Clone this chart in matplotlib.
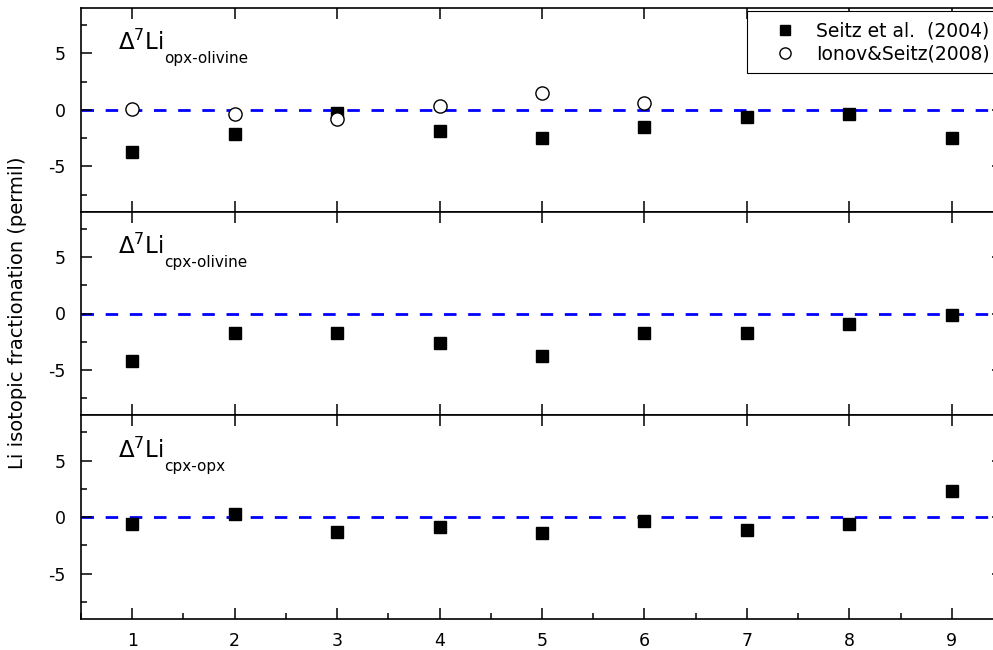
import matplotlib
matplotlib.use("Agg")
import matplotlib.pyplot as plt
from matplotlib.ticker import MultipleLocator

# ---- data ----
samples = [1, 2, 3, 4, 5, 6, 7, 8, 9]
opx_ol_seitz = [-3.7, -2.1, -0.3, -1.9, -2.5, -1.5, -0.65, -0.35, -2.5]
opx_ol_ionov_x = [1, 2, 3, 4, 5, 6]
opx_ol_ionov = [0.1, -0.35, -0.8, 0.3, 1.45, 0.6]
cpx_ol_seitz = [-4.2, -1.7, -1.7, -2.65, -3.8, -1.7, -1.7, -0.9, -0.1]
cpx_opx_seitz = [-0.6, 0.3, -1.35, -0.9, -1.4, -0.3, -1.1, -0.6, 2.3]
panel_labels = ["opx\u2010olivine", "cpx\u2010olivine", "cpx\u2010opx"]
legend_labels = ["Seitz et al.  (2004)", "Ionov&Seitz(2008)"]
ylabel = "Li isotopic fractionation (permil)"

plt.rcParams['font.family'] = ['DejaVu Sans']
plt.rcParams['mathtext.fontset'] = 'dejavusans'
plt.rcParams['axes.unicode_minus'] = False

fig = plt.figure(figsize=(9.93, 6.5), dpi=100)
W, H = 993.0, 650.0
left = 81 / W
right = 1003 / W
top_px, bot_px = 8, 619
ph = (bot_px - top_px) / 3.0

axes = []
for i in range(3):
    ytop = top_px + i * ph
    ax = fig.add_axes([left, 1 - (ytop + ph) / H, right - left, ph / H])
    axes.append(ax)

series = [opx_ol_seitz, cpx_ol_seitz, cpx_opx_seitz]
for i, ax in enumerate(axes):
    ax.set_xlim(0.5, 9.5)
    ax.set_ylim(-9, 9)
    ax.axhline(0, color='#0000ff', lw=2.0, ls=(0, (4.5, 4.2)), zorder=1)
    h1, = ax.plot(samples, series[i], ls='none', marker='s', ms=9,
                  mfc='black', mec='black', zorder=3, label=legend_labels[0])
    if i == 0:
        h2, = ax.plot(opx_ol_ionov_x, opx_ol_ionov, ls='none', marker='o', ms=9.5,
                      mfc='white', mec='black', mew=1.0, zorder=4, label=legend_labels[1])
        leg = ax.legend(handles=[h1, h2], loc='upper right', bbox_to_anchor=(0.997, 0.985),
                        fontsize=13.5, frameon=True, fancybox=False, framealpha=1,
                        edgecolor='black', borderpad=0.55, handletextpad=0.15,
                        labelspacing=0.2, handlelength=3.0, borderaxespad=0,
                        markerscale=0.85)
        leg.get_frame().set_linewidth(0.8)
    ax.text(0.04, 0.83, r'$\Delta^{7}$Li', transform=ax.transAxes,
            fontsize=16.5, va='center', ha='left')
    ax.text(0.09, 0.75, panel_labels[i], transform=ax.transAxes,
            fontsize=11, va='center', ha='left')

    ax.yaxis.set_major_locator(MultipleLocator(5))
    ax.yaxis.set_minor_locator(MultipleLocator(2.5))
    ax.xaxis.set_major_locator(MultipleLocator(1))
    ax.tick_params(which='both', direction='in', top=True, right=True,
                   labelsize=12.5, width=1.1)
    ax.tick_params(which='major', length=8)
    ax.tick_params(which='minor', length=4.5)
    ax.tick_params(axis='y', pad=11)
    ax.tick_params(axis='x', pad=9)
    for s in ax.spines.values():
        s.set_linewidth(1.2)
    if i < 2:
        ax.tick_params(axis='x', labelbottom=False)
    else:
        ax.xaxis.set_minor_locator(MultipleLocator(0.5))
        ax.tick_params(axis='x', which='minor', top=False)

fig.text(18 / W, 1 - 313 / H, ylabel, rotation=90, fontsize=14,
         va='center', ha='center')

fig.savefig("out.png", dpi=100)
